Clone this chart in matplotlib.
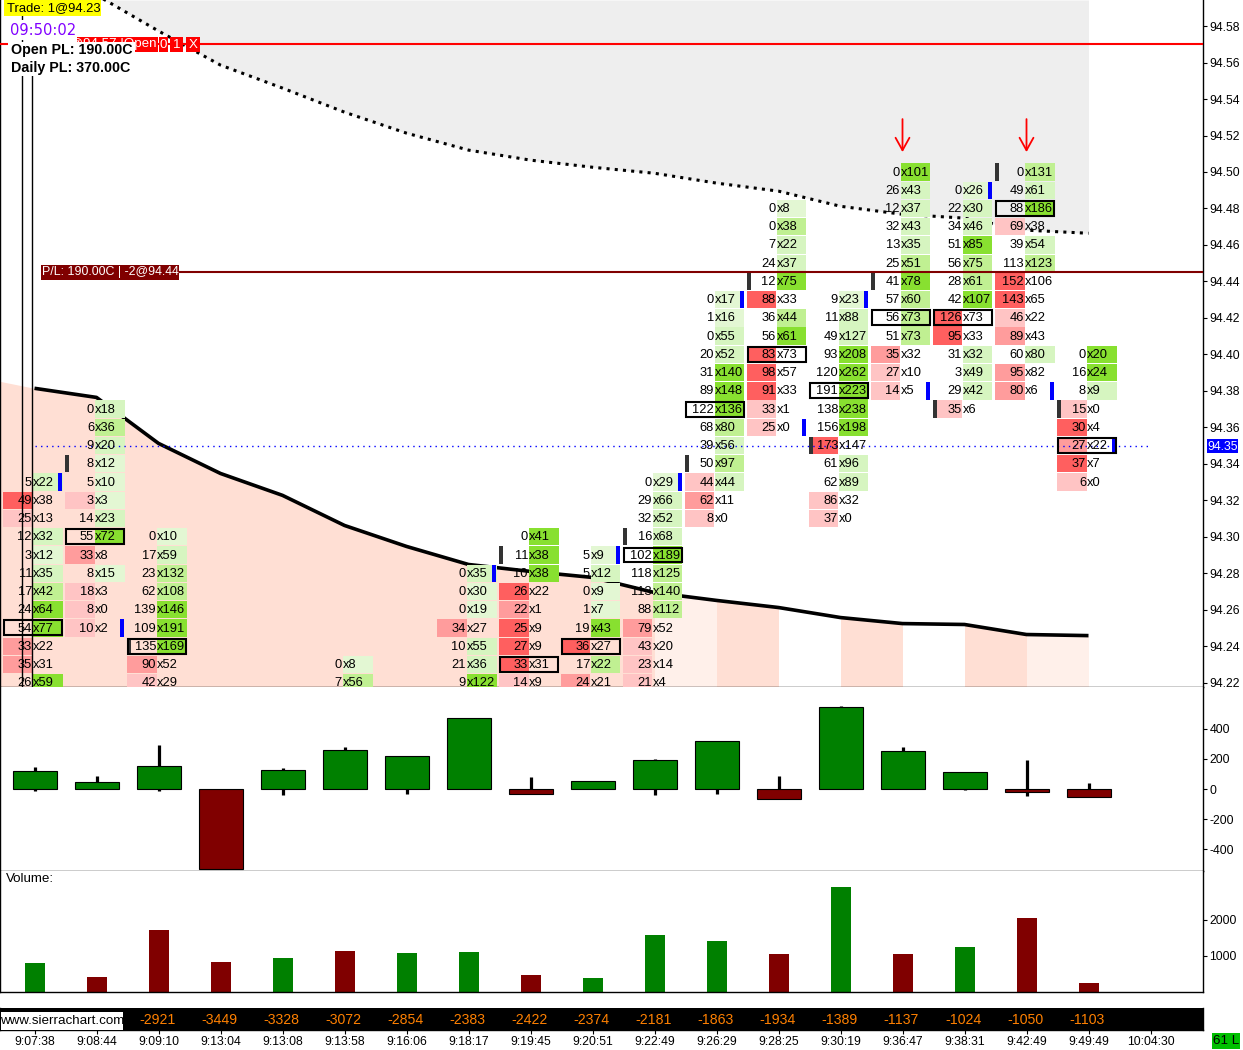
import matplotlib
matplotlib.use("Agg")
import matplotlib.pyplot as plt
from matplotlib.patches import Rectangle

W, H = 1243, 1050
plt.rcParams["font.family"] = ["Liberation Sans", "DejaVu Sans"]

# ---------- data ----------
times = ["9:07:38", "9:08:44", "9:09:10", "9:13:04", "9:13:08", "9:13:58", "9:16:06", "9:18:17", "9:19:45",
         "9:20:51", "9:22:49", "9:26:29", "9:28:25", "9:30:19", "9:36:47", "9:38:31", "9:42:49", "9:49:49", "10:04:30"]
cum_delta = [-2921, -3449, -3328, -3072, -2854, -2383, -2422, -2374, -2181, -1863, -1934, -1389, -1137, -1024, -1050, -1103]
delta_close = [120, 47, 153, -527, 127, 260, 220, 473, -33, 53, 193, 320, -67, 547, 253, 113, -20, -53]
delta_high = [147, 87, 293, 0, 140, 280, 220, 473, 80, 53, 200, 320, 87, 553, 280, 113, 193, 40]
delta_low = [-13, 0, -13, -527, -40, 0, -33, 0, -33, 0, -40, -33, -67, 0, 0, -7, -47, -53]
volume = [790, 395, 1720, 815, 930, 1125, 1070, 1100, 450, 365, 1575, 1410, 1040, 2930, 1040, 1240, 2055, 225]
volume_up = [1, 0, 0, 0, 1, 0, 1, 1, 0, 1, 1, 1, 0, 1, 0, 1, 0, 0]
upper_band = [94.597, 94.5773, 94.5586, 94.546, 94.5328, 94.5213, 94.512, 94.5065, 94.5026, 94.4993, 94.4939,
              94.4895, 94.4812, 94.4768, 94.4747, 94.4681, 94.4664]
lower_band = [94.3814, 94.3764, 94.3512, 94.3347, 94.3227, 94.3062, 94.2947, 94.2848, 94.2810, 94.2777, 94.2694,
              94.2651, 94.2612, 94.2557, 94.2524, 94.2519, 94.2464, 94.2458]
lower_band_lead = 94.3852
order_price = 94.5701
position_price = 94.445
last_price = 94.35

bars = {}
bars[0] = (94.33, [5, 49, 25, 12, 3, 11, 17, 24, 54, 33, 35, 26], [22, 38, 13, 32, 12, 35, 42, 64, 77, 22, 31, 59])
bars[1] = (94.37, [0, 6, 9, 8, 5, 3, 14, 55, 33, 8, 18, 8, 10], [18, 36, 20, 12, 10, 3, 23, 72, 8, 15, 3, 0, 2])
bars[2] = (94.30, [0, 17, 23, 62, 139, 109, 135, 90, 42], [10, 59, 132, 108, 146, 191, 169, 52, 29])
bars[5] = (94.23, [0, 7], [8, 56])
bars[7] = (94.28, [0, 0, 0, 34, 10, 21, 9], [35, 30, 19, 27, 55, 36, 122])
bars[8] = (94.30, [0, 11, 10, 26, 22, 25, 27, 33, 14], [41, 38, 38, 22, 1, 9, 9, 31, 9])
bars[9] = (94.29, [5, 5, 0, 1, 19, 36, 17, 24], [9, 12, 9, 7, 43, 27, 22, 21])
bars[10] = (94.33, [0, 29, 32, 16, 102, 118, 113, 88, 79, 43, 23, 21], [29, 66, 52, 68, 189, 125, 140, 112, 52, 20, 14, 4])
bars[11] = (94.43, [0, 1, 0, 20, 31, 89, 122, 68, 39, 50, 44, 62, 8], [17, 16, 55, 52, 140, 148, 136, 80, 56, 97, 44, 11, 0])
bars[12] = (94.48, [0, 0, 7, 24, 12, 88, 36, 56, 83, 98, 91, 33, 25], [8, 38, 22, 37, 75, 33, 44, 61, 73, 57, 33, 1, 0])
bars[13] = (94.43, [9, 11, 49, 93, 120, 191, 138, 156, 173, 61, 62, 86, 37], [23, 88, 127, 208, 262, 223, 238, 198, 147, 96, 89, 32, 0])
bars[14] = (94.50, [0, 26, 12, 32, 13, 25, 41, 57, 56, 51, 35, 27, 14], [101, 43, 37, 43, 35, 51, 78, 60, 73, 73, 32, 10, 5])
bars[15] = (94.49, [0, 22, 34, 51, 56, 28, 42, 126, 95, 31, 3, 29, 35], [26, 30, 46, 85, 75, 61, 107, 73, 33, 32, 49, 42, 6])
bars[16] = (94.50, [0, 49, 88, 69, 39, 113, 152, 143, 46, 89, 60, 95, 80], [131, 61, 186, 38, 54, 123, 106, 65, 22, 43, 80, 82, 6])
bars[17] = (94.40, [0, 16, 8, 15, 30, 27, 37, 6], [20, 24, 9, 0, 4, 22, 7, 0])

# columns run on below the visible window: their reference size is larger than what shows
hidden_bid_max = {7: 50}
hidden_ask_max = {5: 100}
poc_below_window = [5, 7]
open_price = {1: 94.34, 2: 94.24, 8: 94.29, 10: 94.30, 11: 94.34, 12: 94.44, 13: 94.35, 14: 94.44, 15: 94.37, 16: 94.50, 17: 94.37}
close_price = {0: 94.33, 1: 94.25, 7: 94.28, 9: 94.29, 10: 94.33, 11: 94.43, 12: 94.36, 13: 94.43, 14: 94.38, 15: 94.49, 16: 94.38, 17: 94.35}
marked_bars = [14, 16]

# ---------- styles ----------
GREENS = ["#e3f7d3", "#d6f5c0", "#c0f092", "#88e030"]
REDS = ["#ffc4c4", "#ff9c9c", "#ff5f5f"]
PINK_DARK, PINK_LIGHT = "#ffdfd4", "#fff0ea"
GRAY = "#eeeeee"
segment_fill = {i: PINK_DARK for i in range(-1, 10)}
segment_fill.update({10: PINK_LIGHT, 11: PINK_DARK, 13: PINK_DARK, 15: PINK_DARK, 16: PINK_LIGHT})
GREEN, MAROON = "#008000", "#800000"
CELL_FS, AXIS_FS = 9.3, 8.8


def make_ax(top, bottom):
    ax = fig.add_axes([0, 1 - bottom / H, 1202.5 / W, (bottom - top) / H])
    ax.set_xlim(-34.5 / 62, (1202.5 - 34.5) / 62)
    ax.set_xticks([])
    ax.spines["top"].set_visible(False)
    for s in ax.spines.values():
        s.set_linewidth(1.0)
    ax.yaxis.tick_right()
    ax.tick_params(axis="y", length=3, width=0.8, labelsize=AXIS_FS, pad=2)
    return ax


def ftxt(x, y, s, **kw):
    kw.setdefault("va", "center")
    return fig.text(x / W, 1 - y / H, s, **kw)


def fbox(x0, y0, x1, y1, color, z=30):
    fig.add_artist(Rectangle((x0 / W, 1 - y1 / H), (x1 - x0) / W, (y1 - y0) / H, fc=color, lw=0,
                             transform=fig.transFigure, zorder=z))


fig = plt.figure(figsize=(W / 100, H / 100), dpi=100, facecolor="white")

# ---------- price panel ----------
ax = make_ax(0, 686.5)
y_top, y_bot = 94.5943, 94.2179
ax.set_ylim(y_bot, y_top)
ax.set_yticks([94.22 + 0.02 * k for k in range(19)])
ax.set_yticklabels([f"{94.22 + 0.02 * k:.2f}" for k in range(19)])

ax.fill_between(range(1, 18), upper_band, y_top, color=GRAY, lw=0, zorder=1)
xs = [-34.5 / 62] + list(range(18))
ys = [lower_band_lead] + lower_band
for seg, (x0, x1, y0, y1) in enumerate(zip(xs[:-1], xs[1:], ys[:-1], ys[1:])):
    c = segment_fill.get(seg - 1)
    if c:
        ax.fill_between([x0, x1], [y0, y1], y_bot, color=c, lw=0, zorder=1)
ax.plot(range(18), lower_band, color="black", lw=2.6, zorder=2, solid_capstyle="butt")
ax.plot(range(1, 18), upper_band, color="black", lw=2.2, ls=(0, (1, 1.7)), zorder=2)

ax.axhline(order_price, color="#ff0000", lw=1.5, zorder=6)
ax.plot([2.35, 1202 / 62], [position_price] * 2, color=MAROON, lw=1.5, zorder=6)
ax.plot([0, 18], [last_price] * 2, color="#0000ff", lw=1.0, ls=(0, (1, 3)), zorder=8)
ax.plot([(21.5 - 34.5) / 62] * 2, [y_bot, y_top], color="black", lw=1.0, zorder=7)
ax.plot([(31.5 - 34.5) / 62] * 2, [y_bot, 94.553], color="black", lw=1.0, zorder=7)

TICK = 0.01
CH = 0.0095
OFF = 2 / 62
HALF = 29.5 / 62
for i, (top, bids, asks) in bars.items():
    c = i - OFF
    bid_ref = hidden_bid_max.get(i, max(bids))
    ask_ref = hidden_ask_max.get(i, max(asks))
    totals = [b + a for b, a in zip(bids, asks)]
    poc = totals.index(max(totals))
    for k, (b, a) in enumerate(zip(bids, asks)):
        p = top - TICK * k
        if b >= a:
            f = b / bid_ref
            col = REDS[0 if f < 0.5 else 1 if f < 0.75 else 2]
            ax.add_patch(Rectangle((c - HALF, p - CH / 2), HALF, CH, fc=col, lw=0, zorder=3))
        if a >= b:
            f = a / ask_ref
            col = GREENS[min(int(f * 4), 3)]
            ax.add_patch(Rectangle((c + 0.5 / 62, p - CH / 2), HALF, CH, fc=col, lw=0, zorder=3))
        ax.text(c - 0.5 / 62, p - 0.0003, str(b), ha="right", va="center", fontsize=CELL_FS, zorder=9, clip_on=True)
        ax.text(c, p - 0.0003, "x" + str(a), ha="left", va="center", fontsize=CELL_FS, zorder=9, clip_on=True)
        if k == poc and i not in poc_below_window:
            ax.add_patch(Rectangle((c - HALF + 1 / 62, p - 0.0041), 2 * HALF - 1 / 62, 0.0082, fc="none",
                                   ec="black", lw=1.5, zorder=8.5))
for i, p in open_price.items():
    ax.add_patch(Rectangle((i - OFF - HALF, p - CH / 2), 4 / 62, CH, fc="#333333", lw=0, zorder=4))
for i, p in close_price.items():
    ax.add_patch(Rectangle((i - OFF + HALF - 4 / 62, p - CH / 2), 4 / 62, CH, fc="#0000ff", lw=0, zorder=4))
for i in marked_bars:
    ax.annotate("", xy=(i, 94.5109), xytext=(i, 94.529),
                arrowprops=dict(arrowstyle="->,head_length=0.9,head_width=0.5", color="#ff0000", lw=1.3,
                                shrinkA=0, shrinkB=0), zorder=9)

# last price flag
fbox(1207, 439, 1238, 453, "#0000ff", z=19)
ftxt(1222.5, 446.5, f"{last_price:.2f}", color="white", ha="center", fontsize=AXIS_FS, zorder=20)

# ---------- delta panel ----------
ax2 = make_ax(686.5, 870.5)
ax2.set_ylim(-540, 680)
ax2.set_yticks([-400, -200, 0, 200, 400])
ax2.set_yticklabels(["-400", "-200", "0", "200", "400"])
idx = list(range(18))
ax2.vlines(idx, delta_low, delta_high, color="black", lw=2.3, zorder=2)
ax2.bar(idx, delta_close, width=44 / 62, color=[GREEN if d > 0 else MAROON for d in delta_close],
        edgecolor="black", linewidth=0.8, zorder=3)

# ---------- volume panel ----------
ax3 = make_ax(870.5, 991.5)
ax3.set_ylim(0, 3380)
ax3.set_yticks([1000, 2000])
ax3.set_yticklabels(["1000", "2000"])
ax3.bar(idx, volume, width=20 / 62, color=[GREEN if u else MAROON for u in volume_up], lw=0)
ftxt(6, 879.5, "Volume:", fontsize=9.6, ha="left")

# ---------- cumulative delta strip + time scale ----------
ax4 = make_ax(1008, 1030)
ax4.set_facecolor("black")
ax4.set_ylim(0, 1)
ax4.set_yticks([])
ax4.set_xticks(range(19))
ax4.set_xticklabels(times, fontsize=8.8)
ax4.tick_params(axis="x", length=3, width=0.8, pad=1.5)
for i, v in enumerate(cum_delta):
    ax4.text(i + 2 - 1 / 62, 0.45, str(v), color="#ff8000", ha="center", va="center", fontsize=10.2)
fbox(1, 1012, 123, 1029.5, "white", z=19)
ftxt(62, 1021, "www.sierrachart.com", ha="center", fontsize=9.6, zorder=20)

# ---------- overlays ----------
fbox(4, 0, 101, 15.5, "#ffff00")
ftxt(7, 8, "Trade: 1@94.23", ha="left", fontsize=9.4, zorder=31)
fbox(8, 20, 77, 40, "white")
ftxt(10, 30.5, "09:50:02", ha="left", fontsize=10.6, color="#8000ff", family=["DejaVu Sans"], zorder=31)
for x0, x1, s, tx in [(77, 157.5, "L@94.57 |Open", 157), (158.5, 168, "0", 163.3), (170, 183, "1", 176.5), (186, 200, "X", 193)]:
    fbox(x0, 37, x1, 51.5, "#ff0000")
    ftxt(tx, 44.5, s, ha="right" if x1 - x0 > 20 else "center", color="white", fontsize=9.6, zorder=31)
fbox(8, 42, 135, 76, "white", z=31)
ftxt(11, 50, "Open PL: 190.00C", ha="left", fontsize=10.3, fontweight="bold", zorder=32)
ftxt(11, 68, "Daily PL: 370.00C", ha="left", fontsize=10.3, fontweight="bold", zorder=32)
fbox(41, 265, 179, 280, MAROON)
ftxt(110, 272.5, "P/L: 190.00C | -2@94.44", ha="center", color="white", fontsize=8.9, zorder=32)
fbox(1212, 1033, 1240, 1049, "#00c000")
ftxt(1226, 1041, "61 L", ha="center", fontsize=9.6, zorder=32)

fig.savefig("out.png", dpi=100)
